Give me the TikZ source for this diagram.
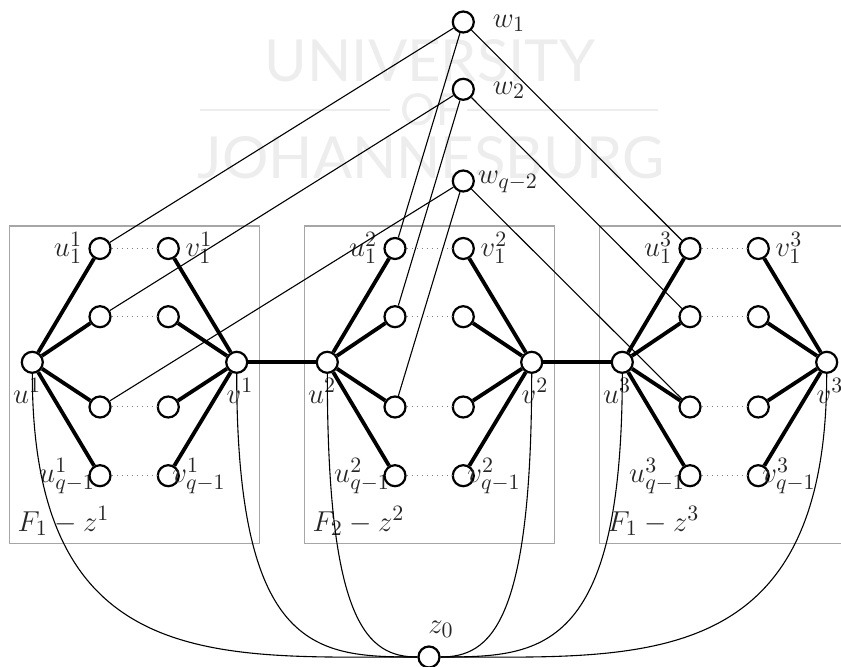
\documentclass[tikz,border=0pt]{standalone}
\usepackage{fontspec}
\newfontfamily\wmfont{Lato}
\DeclareMathSizes{15}{15}{10.6}{7.5}
\definecolor{wmgray}{HTML}{EDEDED}
\definecolor{boxgray}{HTML}{A6A6A6}
\tikzset{
  vtx/.style={circle,draw=black,fill=white,line width=1.1pt,minimum size=10.5pt,inner sep=0pt},
  heavy/.style={line width=1.9pt},
  bridge/.style={line width=2.1pt},
  link/.style={line width=0.55pt},
  dots/.style={dotted,line width=0.5pt,draw=gray},
  frame/.style={draw=boxgray,line width=0.7pt},
  lab/.style={inner sep=0pt,text=black!85,font=\fontsize{15}{18}\selectfont},
  wm/.style={inner sep=0pt,text=wmgray,font=\wmfont\fontsize{29}{30}\selectfont},
}
\begin{document}
\begin{tikzpicture}[x=0.5pt,y=-0.5pt]
\clip (0,0) rectangle (841,667);
% watermark
\node[wm] (wmA) at (430,61) {UNIVERSITY};
\node[wm,font=\wmfont\fontsize{22}{23}\selectfont] (wmB) at (431,110) {OF};
\node[wm] (wmC) at (431,158) {JOHANNESBURG};
\coordinate (wmL) at (200,110);
\coordinate (wmR) at (658,110);
\coordinate (wmM) at (390,110);
\coordinate (wmN) at (467,110);
\draw[wmgray,line width=0.7pt] (wmL) -- (wmM);
\draw[wmgray,line width=0.7pt] (wmN) -- (wmR);
% boxes, labels, vertices of the three blocks
\foreach \i/\dx/\fn in {1/0/1,2/295/2,3/590/1}{
  \begin{scope}[xshift=\dx*0.5pt]
    \node[frame,rectangle,minimum width=125pt,minimum height=158.7pt,inner sep=0pt] (box\i) at (134.3,384.7) {};
    \node[lab] (F\i) at (63.5,521) {$F_{\fn}-z^{\i}$};
    \node[lab] (lu\i) at (27,391) {$u^{\i}$};
    \node[lab] (lua\i) at (68,248) {$u_1^{\i}$};
    \node[lab] (lub\i) at (67,476) {$u_{q-1}^{\i}$};
    \node[vtx] (u\i) at (32.3,362.3) {};
    \node[vtx] (a\i) at (100,248.5) {};
    \node[vtx] (b\i) at (100,316.7) {};
    \node[vtx] (c\i) at (100,407) {};
    \node[vtx] (d\i) at (100,475.7) {};
    \node[vtx] (e\i) at (168.3,248.5) {};
    \node[vtx] (f\i) at (168.3,316.7) {};
    \node[vtx] (g\i) at (168.3,407) {};
    \node[vtx] (h\i) at (168.3,475.7) {};
    \node[vtx] (v\i) at (236.7,362.3) {};
    \node[lab] (lv\i) at (240,391) {$v^{\i}$};
    \node[lab] (lve\i) at (199,248) {$v_1^{\i}$};
    \node[lab] (lvh\i) at (199,476) {$v_{q-1}^{\i}$};
  \end{scope}
  \foreach \n in {a,b,c,d}{\draw[heavy] (u\i) -- (\n\i);}
  \foreach \n in {e,f,g,h}{\draw[heavy] (v\i) -- (\n\i);}
  \draw[dots] (a\i) -- (e\i);
  \draw[dots] (b\i) -- (f\i);
  \draw[dots] (c\i) -- (g\i);
  \draw[dots] (d\i) -- (h\i);
}
\draw[bridge] (v1) -- (u2);
\draw[bridge] (v2) -- (u3);
% top vertices
\node[vtx] (w1) at (463.3,22) {};
\node[vtx] (w2) at (463.3,89.3) {};
\node[vtx] (w3) at (463.3,181) {};
\node[lab] (lw1) at (509,23) {$w_1$};
\node[lab] (lw2) at (509,90) {$w_2$};
\node[lab] (lw3) at (508,182) {$w_{q-2}$};
\foreach \i in {1,2,3}{
  \draw[link] (w1) -- (a\i);
  \draw[link] (w2) -- (b\i);
  \draw[link] (w3) -- (c\i);
}
% bottom vertex
\node[vtx] (z0) at (429,657) {};
\node[lab] (lz) at (441,629) {$z_0$};
\draw[link] (u1.south) .. controls +(0,300) and +(-200,0) .. (z0.west);
\draw[link] (v1.south) .. controls +(0,280) and +(-100,0) .. (z0.west);
\draw[link] (u2.south) .. controls +(0,250) and +(-50,0) .. (z0.west);
\draw[link] (v2.south) .. controls +(0,250) and +(50,0) .. (z0.east);
\draw[link] (u3.south) .. controls +(0,280) and +(100,0) .. (z0.east);
\draw[link] (v3.south) .. controls +(0,300) and +(200,0) .. (z0.east);
\end{tikzpicture}
\end{document}
